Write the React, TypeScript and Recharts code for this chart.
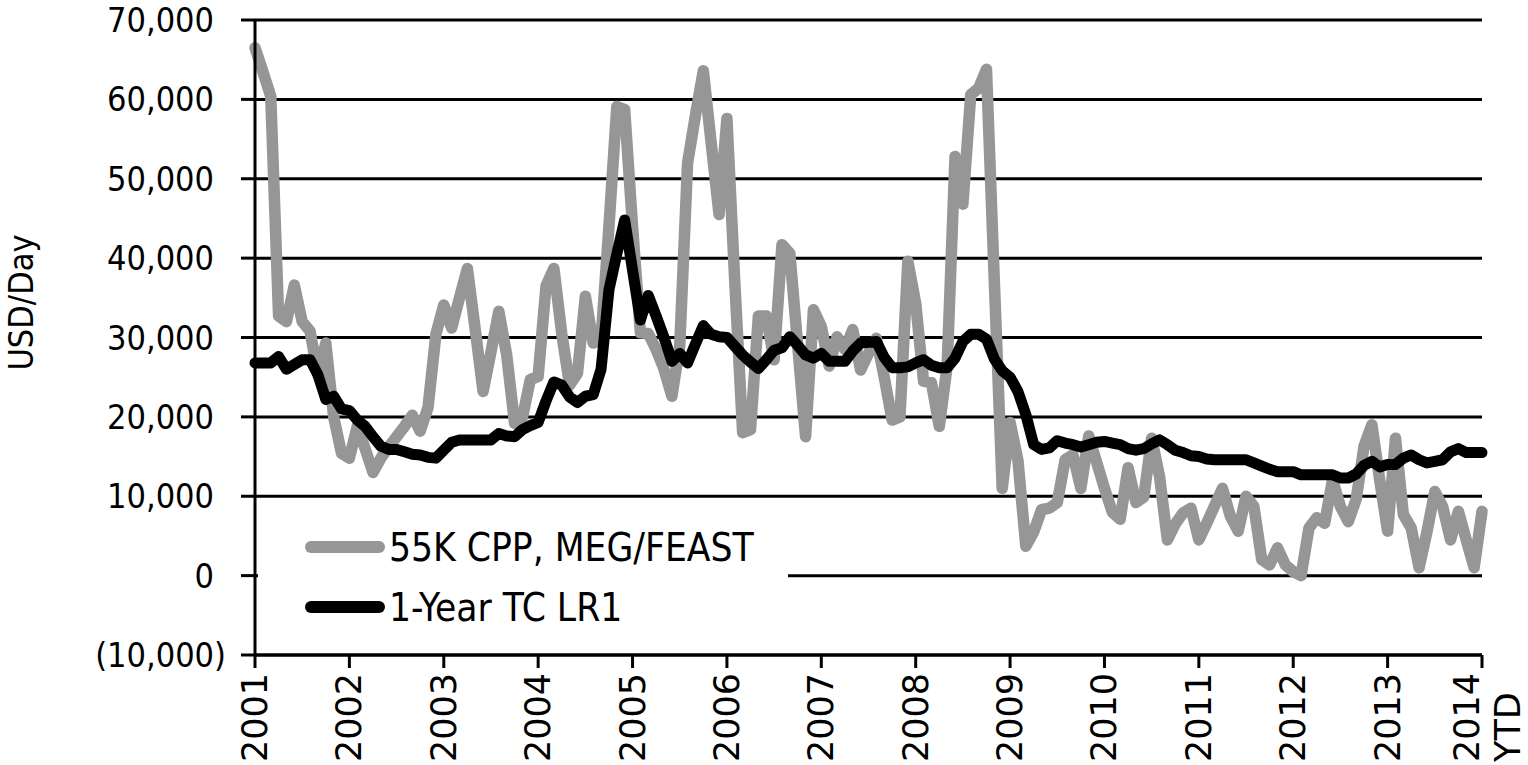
import { LineChart, Line, XAxis, YAxis, CartesianGrid, Legend, Label } from "recharts";

// monthly categories, Jan 2001 .. Jan 2014
const years = ["2001", "2002", "2003", "2004", "2005", "2006", "2007", "2008", "2009", "2010", "2011", "2012", "2013"];
const monthNums = ["01", "02", "03", "04", "05", "06", "07", "08", "09", "10", "11", "12"];
const months = [...years.flatMap((y) => monthNums.map((m) => `${y}-${m}`)), "2014-01"];

// 55K CPP, MEG/FEAST (USD/day)
const cpp55k = [
  66500, 63500, 60400, 32700, 32000, 36600, 32000, 30800, 25300, 29300, 20000, 15400,
  14800, 18800, 16000, 13000, 14800, 16200, 17500, 18800, 20200, 18200, 21200, 30400,
  34100, 31200, 35000, 38700, 31000, 23200, 28200, 33300, 27800, 19200, 19900, 24700,
  25100, 36500, 38700, 30500, 24000, 25500, 35200, 29300, 29800, 44000, 59100, 58700,
  44000, 30600, 30500, 28500, 26000, 22600, 28900, 52000, 58000, 63600, 54500, 45500,
  57600, 37000, 18000, 18400, 32700, 32700, 27200, 41700, 40600, 29000, 17500, 33500,
  31400, 26400, 30100, 28500, 31000, 25900, 28000, 29900, 25000, 19600, 20000, 39600,
  34300, 24500, 24300, 18800, 26400, 52800, 46800, 60600, 61400, 63800, 37000, 11000,
  19300, 14500, 3700, 5500, 8300, 8500, 9200, 14600, 15200, 11000, 17600, 14300,
  11000, 8000, 7100, 13600, 9200, 9900, 17300, 12500, 4500, 6500, 7900, 8500,
  4500, 6600, 8800, 11000, 7500, 5600, 10000, 8700, 2000, 1350, 3500, 1350,
  500, 0, 6000, 7300, 6600, 12100, 8700, 6800, 9600, 16300, 19000, 12000,
  5600, 17300, 7700, 6000, 1000, 5500, 10600, 8700, 4500, 8100, 4500, 1000,
  8100,
];

// 1-Year TC LR1 (USD/day)
const tcLr1 = [
  26800, 26800, 26800, 27600, 26000, 26600, 27200, 27200, 25300, 22200, 22600, 21000,
  20800, 19600, 18800, 17500, 16300, 15900, 15900, 15600, 15300, 15200, 14900, 14800,
  15800, 16800, 17100, 17100, 17100, 17100, 17100, 17900, 17600, 17500, 18400, 18900,
  19300, 22000, 24400, 24000, 22500, 21800, 22600, 22800, 26000, 36000, 40500, 44800,
  38500, 32200, 35300, 32700, 30000, 27000, 28000, 26800, 29200, 31500, 30400, 30100,
  30000, 28900, 27800, 26900, 26100, 27200, 28400, 28700, 30100, 29000, 27800, 27400,
  28000, 27000, 27000, 27000, 28300, 29300, 29400, 29500, 27500, 26200, 26200, 26300,
  26800, 27200, 26500, 26200, 26200, 27400, 29500, 30400, 30400, 29800, 27300, 25800,
  25000, 23200, 20300, 16500, 15900, 16100, 17000, 16700, 16500, 16200, 16500, 16800,
  16900, 16700, 16500, 16000, 15800, 16000, 16600, 17100, 16500, 15800, 15500, 15100,
  15000, 14700, 14600, 14600, 14600, 14600, 14600, 14200, 13800, 13400, 13100, 13100,
  13100, 12700, 12700, 12700, 12700, 12700, 12300, 12300, 12800, 13900, 14400, 13700,
  14000, 14000, 14800, 15200, 14600, 14200, 14400, 14600, 15600, 16000, 15500, 15500,
  15500,
];

const yTicks = [-10000, 0, 10000, 20000, 30000, 40000, 50000, 60000, 70000];
const lastLabel = ["2014", "YTD"];
const legendOrder = ["cpp", "lr1"];

const data = months.map((m, i) => ({ month: m, cpp: cpp55k[i], lr1: tcLr1[i] }));

const FONT = '"DejaVu Sans Condensed", "DejaVu Sans", sans-serif';
const XFONT = '"DejaVu Sans", sans-serif';

const fmt = (v: number) =>
  v < 0 ? `(${Math.abs(v).toLocaleString("en-US")})` : v.toLocaleString("en-US");

const YTick = ({ x, y, payload }: any) => {
  const v = payload.value as number;
  // positive numbers leave room for the closing parenthesis
  return (
    <text x={v < 0 ? x : x - 12} y={y} textAnchor="end" dominantBaseline="central" fontFamily={FONT} fontSize={34} fill="#000">
      {fmt(v)}
    </text>
  );
};

const XTick = ({ x, y, payload }: any) => {
  const val = String(payload.value);
  const bottom = y + 92;
  if (val === months[months.length - 1]) {
    return (
      <g fontFamily={XFONT} fontSize={35} fill="#000">
        <text x={x - 15} y={bottom} transform={`rotate(-90, ${x - 15}, ${bottom})`} textAnchor="start" dominantBaseline="central">
          {lastLabel[0]}
        </text>
        <text x={x + 26} y={bottom} transform={`rotate(-90, ${x + 26}, ${bottom})`} textAnchor="start" dominantBaseline="central">
          {lastLabel[1]}
        </text>
      </g>
    );
  }
  return (
    <text x={x} y={bottom} transform={`rotate(-90, ${x}, ${bottom})`} textAnchor="start" dominantBaseline="central" fontFamily={XFONT} fontSize={35} fill="#000">
      {val.slice(0, 4)}
    </text>
  );
};

const renderLegend = ({ payload }: any) => {
  const items = [...(payload || [])].sort(
    (a: any, b: any) => legendOrder.indexOf(a.dataKey) - legendOrder.indexOf(b.dataKey)
  );
  return (
    <svg width={530} height={135} style={{ display: "block" }}>
      {items.map((entry: any, i: number) => (
        <g key={entry.value}>
          <line x1={53} x2={121} y1={42 + i * 60} y2={42 + i * 60} stroke={entry.color} strokeWidth={12} strokeLinecap="round" />
          <text x={131} y={42 + i * 60} dominantBaseline="central" fontFamily={FONT} fontSize={38.5} fill="#000">
            {entry.value}
          </text>
        </g>
      ))}
    </svg>
  );
};

const AxisTitle = ({ viewBox }: any) => {
  const cx = viewBox.x + 21;
  const cy = viewBox.y + viewBox.height / 2 - 35;
  return (
    <text x={cx} y={cy} transform={`rotate(-90, ${cx}, ${cy})`} textAnchor="middle" dominantBaseline="central" fontFamily={FONT} fontSize={34} fill="#000">
      USD/Day
    </text>
  );
};

export default function App() {
  return (
    <div style={{ position: "absolute", left: 0, top: 0, width: 1528, height: 765, background: "#fff" }}>
      <LineChart width={1528} height={765} data={data} margin={{ top: 20, right: 46, bottom: 0, left: 0 }}>
        <CartesianGrid vertical={false} stroke="#000" strokeWidth={3} />
        <XAxis
          dataKey="month"
          interval={11}
          height={110}
          tick={<XTick />}
          tickSize={13}
          axisLine={{ stroke: "#000", strokeWidth: 3 }}
          tickLine={{ stroke: "#000", strokeWidth: 3 }}
        />
        <YAxis
          type="number"
          domain={[-10000, 70000]}
          ticks={yTicks}
          interval={0}
          width={255}
          tick={<YTick />}
          tickSize={14}
          tickMargin={15}
          axisLine={{ stroke: "#000", strokeWidth: 3 }}
          tickLine={{ stroke: "#000", strokeWidth: 3 }}
        >
          <Label content={<AxisTitle />} />
        </YAxis>
        <Legend
          layout="horizontal"
          verticalAlign="middle"
          align="center"
          content={renderLegend}
          wrapperStyle={{ left: 258, top: 505, width: 530, height: 135, background: "#fff" }}
        />
        <Line
          type="linear"
          dataKey="cpp"
          name="55K CPP, MEG/FEAST"
          stroke="#969696"
          strokeWidth={11.5}
          strokeLinejoin="round"
          strokeLinecap="round"
          dot={false}
          isAnimationActive={false}
        />
        <Line
          type="linear"
          dataKey="lr1"
          name="1-Year TC LR1"
          stroke="#000"
          strokeWidth={11}
          strokeLinejoin="round"
          strokeLinecap="round"
          dot={false}
          isAnimationActive={false}
        />
      </LineChart>
    </div>
  );
}
